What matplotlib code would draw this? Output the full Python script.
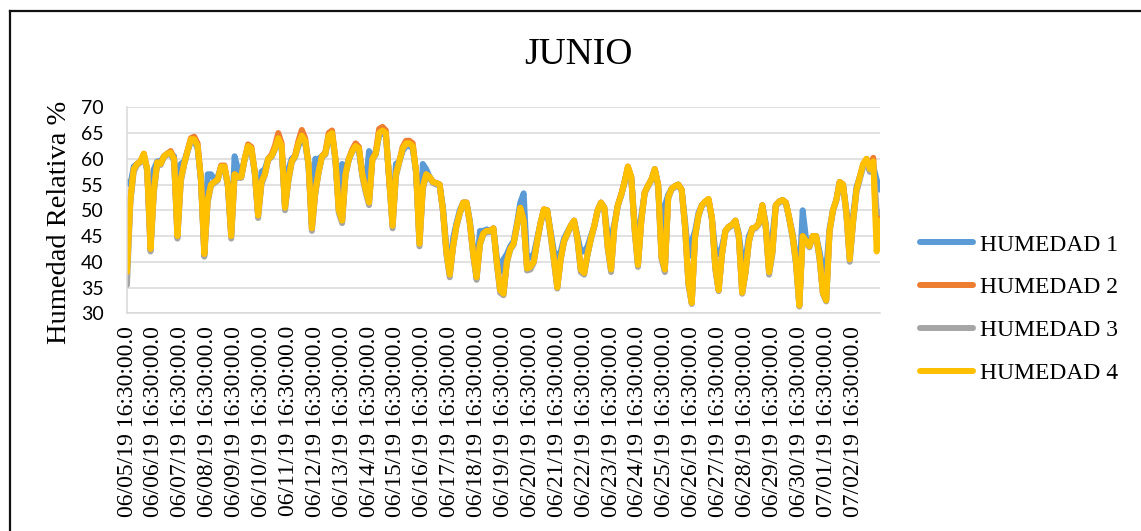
import numpy as np
import pandas as pd
import matplotlib
matplotlib.use("Agg")
import matplotlib.pyplot as plt
from matplotlib.lines import Line2D

# lecturas cada 3 horas desde el 06/05/19 16:30 (8 por dia)
humedad_1 = [
    55.5, 55, 58.5, 59, 59.5, 60.5, 58, 44,
    58, 59.5, 59.5, 60.5, 61, 61, 60.5, 50,
    59, 59.5, 61.5, 63.5, 63.5, 62, 56, 42.5,
    57, 57, 56, 56.5, 58.5, 58, 55, 46,
    60.5, 58, 57, 60, 62, 61.5, 57.5, 50,
    57.5, 58, 60, 60.5, 62, 63.5, 62, 51.5,
    58, 60, 60.5, 62.5, 64, 63, 59, 47.5,
    60, 60, 60.5, 61, 64, 64.5, 60, 51,
    59, 58, 60, 61.5, 62, 61.5, 57, 55,
    61.5, 60.5, 61, 64.5, 65, 64.5, 56, 48.5,
    59, 59.5, 61.5, 62.5, 62.5, 62, 57.5, 45,
    59, 58, 56.5, 55.5, 55.3, 55, 50.5, 43,
    38.5, 44.5, 47.5, 50, 51.5, 51.5, 48, 42.5,
    38.5, 46, 46, 46.3, 46, 46.5, 41, 38,
    40.5, 41.5, 43, 44, 47.5, 51.5, 53.3, 40.5,
    41, 41.5, 44.5, 47.5, 50, 50, 46, 42,
    41, 42, 44.5, 45.8, 47, 48, 45, 42,
    42, 43, 45, 47, 50, 51.5, 50.5, 45,
    44.5, 47.5, 51, 53, 55.5, 58, 56.5, 47.5,
    45, 49, 53.5, 54.8, 56, 58, 55, 43,
    51, 53, 54.2, 54.7, 55, 54, 48, 41,
    44, 46, 49.5, 51, 51.7, 52, 48.5, 42,
    41.5, 43, 46, 46.8, 47.2, 48, 45.5, 40,
    40.5, 45, 46.5, 46.7, 47.5, 51, 47.5, 40,
    45, 51, 51.7, 52, 51.5, 48.5, 45.5, 41,
    37, 50, 44.5, 43.5, 45, 45, 42, 38.5,
    38.5, 46.5, 50, 52, 55.5, 55, 50, 45,
    49, 54.5, 56.5, 58.5, 59.5, 57.5, 58.5, 56,
    54,
]

humedad_2 = [
    38, 52, 58, 59, 59.5, 61, 58, 42.5,
    54, 59.3, 59, 60.5, 61, 61.5, 60, 45,
    56, 59, 61.5, 64, 64.3, 63, 56, 41.5,
    52, 55, 55.5, 56, 58.7, 58.7, 55, 45,
    57, 56.5, 56.5, 60, 62.8, 62.3, 57.5, 49,
    55.5, 57, 60, 60.8, 62.5, 65, 63, 50.5,
    56, 59.5, 60.7, 63.5, 65.6, 64, 59, 46.5,
    53.5, 57.5, 60.5, 61.3, 65, 65.5, 60, 50,
    48, 57, 60, 61.8, 63, 62.3, 57, 54,
    51.5, 60, 61.3, 65.8, 66.2, 65.5, 56, 47,
    57, 59.5, 62.3, 63.5, 63.5, 63, 57.5, 43.5,
    54.5, 57, 56.5, 55.5, 55.3, 55, 50, 42,
    37.5, 43, 47, 49.5, 51.5, 51.5, 47.5, 41.5,
    37, 43.5, 45.5, 46, 46, 46.5, 40, 34.5,
    33.8, 40, 42.5, 43.5, 47, 50.5, 48, 38.7,
    39, 40, 44, 47.5, 50.2, 50, 45.5, 40.5,
    35, 40.5, 44, 45.5, 47, 48, 44.5, 38.5,
    37.8, 41.5, 44.5, 47, 50, 51.5, 50.5, 43,
    38.5, 47, 51, 53, 55.5, 58.5, 56.5, 46.5,
    39.4, 48, 53.5, 54.8, 56, 58, 55, 41,
    38.5, 52.5, 54.2, 54.7, 55, 54, 47, 36,
    32, 45, 49, 51, 51.7, 52.2, 48.5, 39,
    34.5, 41.5, 46, 46.8, 47.2, 48, 45, 34,
    38, 44, 46.5, 46.7, 47.5, 51, 47, 38,
    42, 51, 51.7, 52, 51.5, 48.5, 45, 40,
    31.5, 45, 44, 43, 45, 45, 41, 34,
    32.5, 46, 50, 52, 55.5, 55, 49.5, 40.5,
    48, 54, 56.5, 59, 60, 58, 60.2, 45,
    49,
]

humedad_3 = [
    35.5, 51.5, 57.5, 58.8, 59.3, 60.8, 57.5, 42,
    53.5, 59, 58.8, 60.3, 60.8, 61, 59.5, 44.5,
    55.5, 58.8, 61.3, 63.5, 63.5, 62.3, 55.5, 41,
    51.5, 54.8, 55.3, 55.8, 58.3, 58.3, 54.5, 44.5,
    56.5, 56.3, 56.3, 59.8, 62.3, 61.8, 57, 48.5,
    55, 56.8, 59.8, 60.3, 61.8, 63.8, 62.3, 50,
    55.5, 59.3, 60.3, 62.8, 64.3, 63.3, 58.5, 46,
    53, 57.3, 60.3, 60.8, 64.3, 64.8, 59.5, 49.5,
    47.5, 56.8, 59.8, 61.3, 62.3, 61.8, 56.5, 53.5,
    51, 59.8, 60.8, 64.8, 65.3, 64.8, 55.5, 46.5,
    56.5, 59.3, 61.8, 62.8, 62.8, 62.3, 57, 43,
    54, 56.8, 56.3, 55.3, 55, 54.8, 49.5, 41.5,
    37, 42.8, 46.8, 49.3, 51.3, 51.3, 47.3, 41,
    36.5, 43.3, 45.3, 45.8, 45.8, 46.3, 39.5, 34,
    33.5, 39.8, 42.3, 43.3, 46.8, 50.3, 47.5, 38.3,
    38.5, 39.8, 43.8, 47.3, 50, 49.8, 45, 40,
    34.8, 40.3, 43.8, 45.3, 46.8, 47.8, 44, 38,
    37.5, 41.3, 44.3, 46.8, 49.8, 51.3, 50, 42.5,
    38, 46.8, 50.8, 52.8, 55.3, 58.3, 56, 46,
    39, 47.8, 53.3, 54.6, 55.8, 57.8, 54.5, 40.5,
    38, 52.3, 54, 54.5, 54.8, 53.8, 46.5, 35.5,
    31.8, 44.8, 48.8, 50.8, 51.5, 52, 48, 38.5,
    34.3, 41.3, 45.8, 46.6, 47, 47.8, 44.5, 33.8,
    37.8, 43.8, 46.3, 46.5, 47.3, 50.8, 46.5, 37.5,
    41.5, 50.8, 51.5, 51.8, 51.3, 48.3, 44.5, 39.5,
    31.3, 44.8, 43.8, 42.8, 44.8, 44.8, 40.5, 33.8,
    32.3, 45.8, 49.8, 51.8, 55.3, 54.8, 49, 40,
    47.5, 53.5, 56, 58.5, 59.5, 57.5, 59, 50,
    49.5,
]

humedad_4 = [
    38, 52, 58, 59, 59.5, 61, 58, 42.5,
    54, 59.3, 59, 60.5, 61, 61.2, 60, 45,
    56, 59, 61.5, 63.8, 63.8, 62.5, 56, 41.5,
    52, 55, 55.5, 56, 58.5, 58.5, 55, 45,
    57, 56.5, 56.5, 60, 62.5, 62, 57.5, 49,
    55.5, 57, 60, 60.5, 62, 64, 62.5, 50.5,
    56, 59.5, 60.5, 63, 64.5, 63.5, 59, 46.5,
    53.5, 57.5, 60.5, 61, 64.5, 65, 60, 50,
    48, 57, 60, 61.5, 62.5, 62, 57, 54,
    51.5, 60, 61, 65, 65.5, 65, 56, 47,
    57, 59.5, 62, 63, 63, 62.5, 57.5, 43.5,
    54.5, 57, 56.5, 55.5, 55.3, 55, 50, 42,
    37.5, 43, 47, 49.5, 51.5, 51.5, 47.5, 41.5,
    37, 43.5, 45.5, 46, 46, 46.5, 40, 34.5,
    33.8, 40, 42.5, 43.5, 47, 50.5, 48, 38.7,
    39, 40, 44, 47.5, 50.2, 50, 45.5, 40.5,
    35, 40.5, 44, 45.5, 47, 48, 44.5, 38.5,
    37.8, 41.5, 44.5, 47, 50, 51.5, 50.5, 43,
    38.5, 47, 51, 53, 55.5, 58.5, 56.5, 46.5,
    39.4, 48, 53.5, 54.8, 56, 58, 55, 41,
    38.5, 52.5, 54.2, 54.7, 55, 54, 47, 36,
    32, 45, 49, 51, 51.7, 52.2, 48.5, 39,
    34.5, 41.5, 46, 46.8, 47.2, 48, 45, 34,
    38, 44, 46.5, 46.7, 47.5, 51, 47, 38,
    42, 51, 51.7, 52, 51.5, 48.5, 45, 40,
    31.5, 45, 44, 43, 45, 45, 41, 34,
    32.5, 46, 50, 52, 55.5, 55, 49.5, 40.5,
    48, 54, 56.5, 59, 60, 58, 59.5, 42,
    48,
]

series = ["HUMEDAD 1", "HUMEDAD 2", "HUMEDAD 3", "HUMEDAD 4"]
colores = ["#5B9BD5", "#ED7D31", "#A5A5A5", "#FFC000"]

inicio = "2019-06-05 16:30"
tiempo = pd.date_range(inicio, periods=len(humedad_4), freq="3h")
dias = pd.date_range(inicio, "2019-07-02 16:30", freq="D")
etiquetas = [d.strftime("%m/%d/%y %H:%M:%S") + ".0" for d in dias]

serif = "Liberation Serif"
W, H = 1141, 531

fig = plt.figure(figsize=(W / 100, H / 100), dpi=100)
ax = fig.add_axes([127 / W, 1 - 313.3 / H, 753 / W, 206 / H])

datos = [humedad_1, humedad_2, humedad_3, humedad_4]
for nombre, valores, color in zip(series, datos, colores):
    ax.plot(tiempo, valores, color=color, lw=4.3, label=nombre,
            solid_joinstyle="round", solid_capstyle="round")

ax.set_ylim(30, 70)
ax.set_yticks(np.arange(30, 71, 5))
ax.set_xlim(tiempo[0], tiempo[-1])
ax.set_xticks(dias.to_pydatetime())
ax.set_xticklabels(etiquetas, rotation=90, family=serif, fontsize=17,
                   ha="center", va="top")
for t in ax.get_yticklabels():
    t.set_family("Lato")
    t.set_fontsize(14)

ax.grid(axis="y", color="#D9D9D9", lw=1.1)
ax.set_axisbelow(True)
ax.tick_params(axis="both", length=0)
ax.tick_params(axis="x", pad=9)
ax.tick_params(axis="y", pad=17)
for lado in ["top", "right"]:
    ax.spines[lado].set_visible(False)
ax.spines["left"].set_color("#D9D9D9")
ax.spines["bottom"].set_color("#D9D9D9")
ax.spines["left"].set_linewidth(1.1)
ax.spines["bottom"].set_linewidth(1.1)

fig.text(578.5 / W, 1 - 55 / H, "JUNIO", family=serif, fontsize=27,
         ha="center", va="center")
fig.text(60 / W, 1 - 222 / H, "Humedad Relativa %", family=serif,
         fontsize=20.5, rotation=90, ha="center", va="center")

fig.legend(loc="center left", bbox_to_anchor=(920 / W, 1 - 309 / H),
           frameon=False, prop={"family": serif, "size": 17},
           handlelength=2.25, handletextpad=0.3, labelspacing=0.9,
           borderpad=0, borderaxespad=0)

# marco del grafico
fig.add_artist(Line2D([9.5 / W, 9.5 / W], [0, 1 - 11 / H], color="#111111",
                      lw=1.6, transform=fig.transFigure))
fig.add_artist(Line2D([9.5 / W, 1], [1 - 11 / H, 1 - 11 / H], color="#111111",
                      lw=1.6, transform=fig.transFigure))

fig.savefig("out.png", dpi=100)
